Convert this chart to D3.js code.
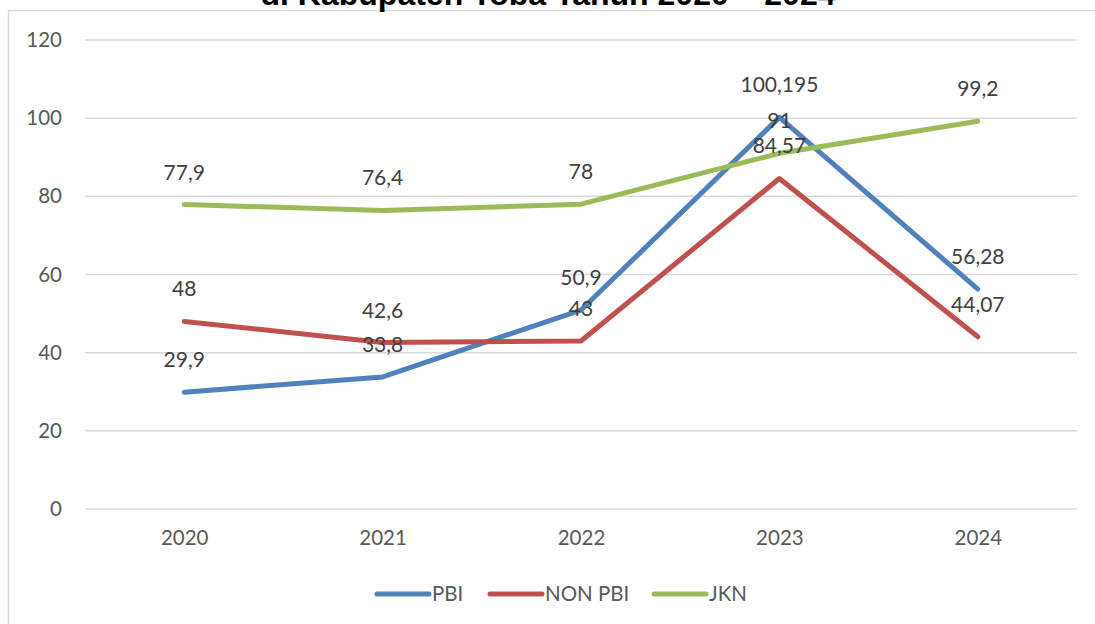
<!DOCTYPE html>
<html>
<head>
<meta charset="utf-8">
<script src="https://cdn.jsdelivr.net/npm/d3@7"></script>
<style>
  body { margin: 0; background: #fff; }
  svg { display: block; font-family: Lato, "Open Sans", sans-serif; }
</style>
</head>
<body>
<svg width="1095" height="624"></svg>
<script>
// data
const years = ['2020', '2021', '2022', '2023', '2024'];
const pbi = [29.9, 33.8, 50.9, 100.195, 56.28];
const nonPbi = [48, 42.6, 43, 84.57, 44.07];
const jkn = [77.9, 76.4, 78, 91, 99.2];
const seriesNames = ['PBI', 'NON PBI', 'JKN'];
const seriesColors = ['#4F81BD', '#C0504D', '#9BBB59'];
const yTicks = [0, 20, 40, 60, 80, 100, 120];

const series = [pbi, nonPbi, jkn].map((values, i) => ({
  name: seriesNames[i], color: seriesColors[i], values
}));

const svg = d3.select('svg');

// chart frame (cut off at the top like the source)
svg.append('rect')
  .attr('x', 8.5).attr('y', 10.5)
  .attr('width', 1100).attr('height', 700)
  .attr('fill', 'none').attr('stroke', '#d9d9d9').attr('stroke-width', 1.5);

// title, only its lower part shows, as in the source
svg.append('text')
  .attr('x', 548).attr('y', 5)
  .attr('text-anchor', 'middle')
  .attr('font-weight', 'bold').attr('font-size', 32)
  .attr('font-family', 'Liberation Sans, Arial, sans-serif')
  .attr('fill', '#000')
  .text('di Kabupaten Toba Tahun 2020 – 2024');

const x = d3.scalePoint().domain(years).range([85, 1077]).padding(0.5);
const y = d3.scaleLinear().domain([0, 120]).range([509, 40]);

// gridlines
svg.append('g')
  .selectAll('line').data(yTicks)
  .enter().append('line')
  .attr('x1', 85).attr('x2', 1077)
  .attr('y1', d => y(d)).attr('y2', d => y(d))
  .attr('stroke', '#d9d9d9').attr('stroke-width', 1.5);

// y axis labels
const yAxis = svg.append('g')
  .attr('transform', 'translate(62,0)')
  .call(d3.axisLeft(y).tickValues(yTicks).tickSize(0).tickPadding(0));
yAxis.select('.domain').remove();
yAxis.selectAll('text')
  .attr('font-size', 20.5).attr('fill', '#595959')
  .attr('font-family', 'Lato, "Open Sans", sans-serif');

// x axis labels
const xAxis = svg.append('g')
  .attr('transform', 'translate(0,530)')
  .call(d3.axisBottom(x).tickSize(0).tickPadding(0));
xAxis.select('.domain').remove();
xAxis.selectAll('text')
  .attr('font-size', 20.5).attr('fill', '#595959')
  .attr('font-family', 'Lato, "Open Sans", sans-serif');

const line = d3.line()
  .x((d, i) => x(years[i]))
  .y(d => y(d));

svg.append('g')
  .selectAll('path').data(series)
  .enter().append('path')
  .attr('d', d => line(d.values))
  .attr('fill', 'none')
  .attr('stroke', d => d.color)
  .attr('stroke-width', 5)
  .attr('stroke-linejoin', 'round')
  .attr('stroke-linecap', 'round');

// data labels above each point
const fmt = v => String(v).replace('.', ',');
series.forEach(s => {
  svg.append('g')
    .selectAll('text').data(s.values)
    .enter().append('text')
    .attr('x', (d, i) => x(years[i]))
    .attr('y', d => y(d) - 25)
    .attr('text-anchor', 'middle')
    .attr('font-size', 21)
    .attr('fill', '#404040')
    .text(fmt);
});

// legend
const legendX = [375, 488, 652];
const legend = svg.append('g')
  .selectAll('g').data(series)
  .enter().append('g')
  .attr('transform', (d, i) => `translate(${legendX[i]},594)`);
legend.append('line')
  .attr('x1', 2).attr('x2', 54)
  .attr('stroke', d => d.color)
  .attr('stroke-width', 5).attr('stroke-linecap', 'round');
legend.append('text')
  .attr('x', 57).attr('y', 7)
  .attr('font-size', 20.5).attr('fill', '#595959')
  .text(d => d.name);
</script>
</body>
</html>
